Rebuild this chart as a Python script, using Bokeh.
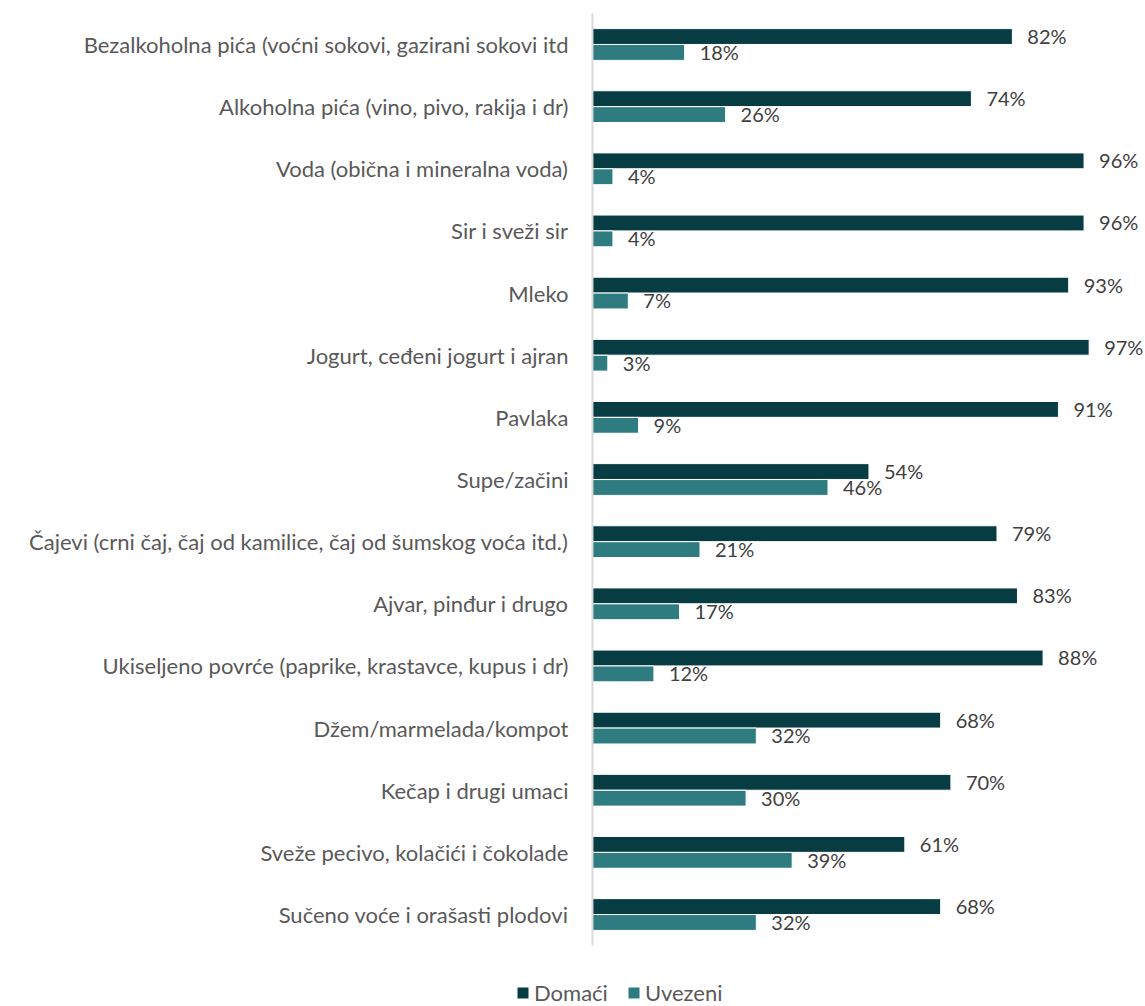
from bokeh.plotting import figure
from bokeh.models import ColumnDataSource, LabelSet, Legend, LegendItem, Range1d
from bokeh.transform import dodge
from bokeh.core.properties import value
from bokeh.embed import file_html
from bokeh.resources import INLINE

categories = [
    "Bezalkoholna pića (voćni sokovi, gazirani sokovi itd",
    "Alkoholna pića (vino, pivo, rakija i dr)",
    "Voda (obična i mineralna voda)",
    "Sir i sveži sir",
    "Mleko",
    "Jogurt, ceđeni jogurt i ajran",
    "Pavlaka",
    "Supe/začini",
    "Čajevi (crni čaj, čaj od kamilice, čaj od šumskog voća itd.)",
    "Ajvar, pinđur i drugo",
    "Ukiseljeno povrće (paprike, krastavce, kupus i dr)",
    "Džem/marmelada/kompot",
    "Kečap i drugi umaci",
    "Sveže pecivo, kolačići i čokolade",
    "Sučeno voće i orašasti plodovi",
]
domaci = [82, 74, 96, 96, 93, 97, 91, 54, 79, 83, 88, 68, 70, 61, 68]
uvezeni = [18, 26, 4, 4, 7, 3, 9, 46, 21, 17, 12, 32, 30, 39, 32]
series_names = ["Domaći", "Uvezeni"]

DARK = "#063c42"
TEAL = "#2e7c7f"
FONT = "Lato"

n = len(categories)
src = ColumnDataSource(data=dict(
    pos=list(range(n)),
    cat=categories,
    dom=domaci,
    uve=uvezeni,
    dom_lbl=[f"{v}%" for v in domaci],
    uve_lbl=[f"{v}%" for v in uvezeni],
    zero=[0] * n,
))

W, H = 1145, 1006
p = figure(
    width=W, height=H,
    x_range=Range1d(-115.6, 108.0),
    y_range=Range1d(15.48, -0.708),
    output_backend="svg", toolbar_location=None,
    min_border_left=0, min_border_right=0,
    min_border_top=0, min_border_bottom=0,
)

off = 0.128
hb = 0.255
r1 = p.hbar(y=dodge("pos", -off), right="dom", left=0, height=hb,
            source=src, fill_color=DARK, line_color="white", line_width=1)
r2 = p.hbar(y=dodge("pos", off), right="uve", left=0, height=hb,
            source=src, fill_color=TEAL, line_color="white", line_width=1)

# vertical axis line at zero
p.segment(x0=0, x1=0, y0=-0.5, y1=n - 0.5, line_color="#d9d9d9", line_width=2)

for col, lbl, o in (("dom", "dom_lbl", -off), ("uve", "uve_lbl", off)):
    ls = LabelSet(x=col, y=dodge("pos", o - 0.01), text=lbl, source=src,
                  x_offset=15, text_baseline="middle", text_align="left",
                  text_font=value(FONT), text_font_size="20px", text_color="#404040")
    p.add_layout(ls)

cat_labels = LabelSet(x="zero", y="pos", text="cat", source=src,
                      x_offset=-24, text_baseline="middle", text_align="right",
                      text_font=value(FONT), text_font_size="22px", text_color="#595959")
p.add_layout(cat_labels)

p.xaxis.visible = False
p.yaxis.visible = False
p.xgrid.visible = False
p.ygrid.visible = False
p.outline_line_color = None

legend = Legend(
    items=[LegendItem(label=series_names[0], renderers=[r1]),
           LegendItem(label=series_names[1], renderers=[r2])],
    location=(515, 0), orientation="horizontal",
    label_text_font=FONT, label_text_font_size="22px", label_text_color="#595959",
    glyph_width=15, glyph_height=15, label_standoff=4, spacing=18,
    label_height=20,
    padding=0, margin=0, border_line_color=None, background_fill_alpha=0,
)
p.add_layout(legend, "center")

open("out.html", "w").write(file_html(p, INLINE))
